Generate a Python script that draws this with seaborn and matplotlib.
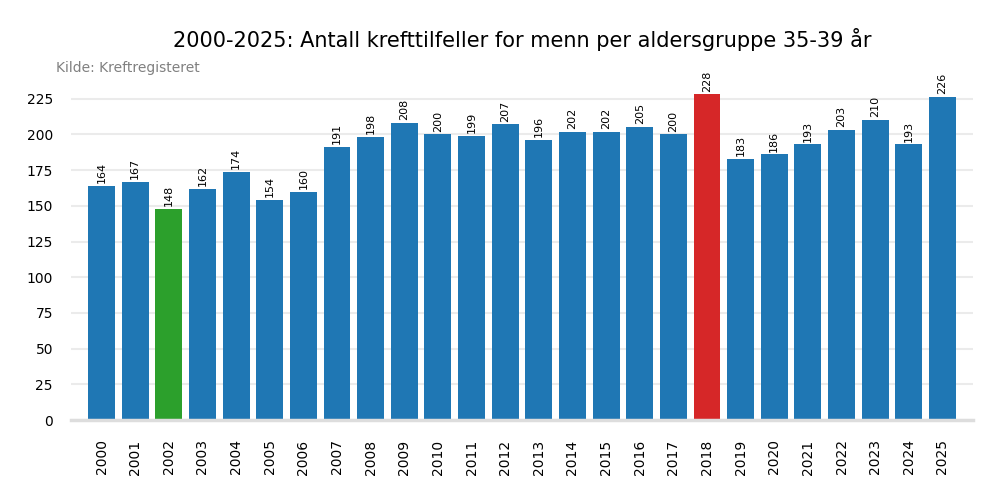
import matplotlib
matplotlib.use("Agg")
import matplotlib.pyplot as plt
import seaborn as sns
import pandas as pd

years = [str(y) for y in range(2000, 2026)]
counts = [164, 167, 148, 162, 174, 154, 160, 191, 198, 208, 200, 199, 207,
          196, 202, 202, 205, 200, 228, 183, 186, 193, 203, 210, 193, 226]
title = "2000-2025: Antall krefttilfeller for menn per aldersgruppe 35-39 år"
source = "Kilde: Kreftregisteret"

blue, green, red = "#1f77b4", "#2ca02c", "#d62728"
mn, mx = min(counts), max(counts)
colors = [green if c == mn else red if c == mx else blue for c in counts]

df = pd.DataFrame({"year": years, "count": counts})

sns.set_style("white")
plt.rcParams['font.family'] = ['DejaVu Sans']
plt.rcParams['text.color'] = 'black'
plt.rcParams['xtick.color'] = 'black'
plt.rcParams['ytick.color'] = 'black'
fig = plt.figure(figsize=(10, 5), dpi=100)
ax = fig.add_axes([0.071, 0.16, 0.902, 0.684])

sns.barplot(data=df, x="year", y="count", hue="year", palette=colors,
            legend=False, width=0.8, saturation=1, linewidth=0, ax=ax)

for cont in ax.containers:
    ax.bar_label(cont, fmt="%d", rotation=90, fontsize=8, padding=2, color="black")

ax.set_xlim(-0.907, 25.907)
ax.set_ylim(0, 239.5)
ax.set_yticks(range(0, 226, 25))
ax.yaxis.grid(True, color="#ebebeb", linewidth=1.5)
ax.set_axisbelow(True)
for s in ["left", "right", "top"]:
    ax.spines[s].set_visible(False)
ax.spines["bottom"].set_color("#dddddd")
ax.spines["bottom"].set_linewidth(2.5)
ax.tick_params(axis="x", length=0, pad=14, labelsize=10, rotation=90)
ax.tick_params(axis="y", length=0, pad=13, labelsize=10)
ax.set_xlabel("")
ax.set_ylabel("")
ax.set_title(title, fontsize=15, pad=22, color="black")
fig.text(0.056, 0.864, source, fontsize=10, color="gray", va="center", ha="left")

fig.savefig("out.png", dpi=100)
